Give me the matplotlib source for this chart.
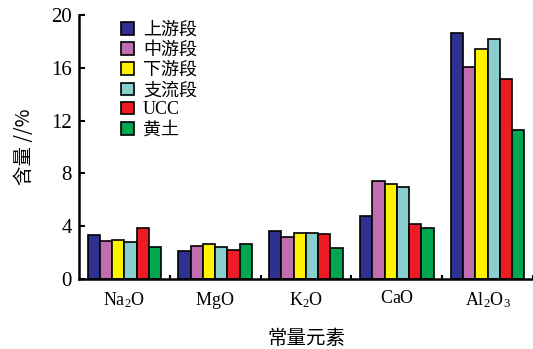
import numpy as np
from matplotlib import pyplot as plt

plt.rcParams['font.family'] = 'Liberation Serif'
plt.rcParams['mathtext.fontset'] = 'custom'
plt.rcParams['mathtext.rm'] = 'Liberation Serif'
cjk = 'Noto Sans CJK SC'

# oxides on the x axis
categories = ['$\\mathrm{Na_2O}$', '$\\mathrm{MgO}$', '$\\mathrm{K_2O}$', '$\\mathrm{CaO}$', '$\\mathrm{Al_2O_3}$']

# content (%) per series
upstream = [3.33, 2.09, 3.66, 4.77, 18.6]
midstream = [2.90, 2.52, 3.15, 7.42, 16.08]
downstream = [2.95, 2.65, 3.45, 7.22, 17.45]
tributary = [2.77, 2.40, 3.45, 6.97, 18.2]
ucc = [3.83, 2.20, 3.38, 4.19, 15.17]
loess = [2.40, 2.65, 2.35, 3.89, 11.26]

series = [upstream, midstream, downstream, tributary, ucc, loess]
labels = ['上游段', '中游段', '下游段', '支流段', 'UCC', '黄土']
colors = ['#2E3092', '#C06EB0', '#FFF200', '#88CFCD', '#ED1C24', '#00A650']
yticks = [0, 4, 8, 12, 16, 20]

fig = plt.figure(figsize=(5.33, 3.49), dpi=100)
ax = fig.add_axes([0.148, 0.2006, 0.852, 0.7564])

x = np.arange(len(categories))
w = 0.135
for i, (vals, lab, c) in enumerate(zip(series, labels, colors)):
    ax.bar(x + (i - 2.5) * w, vals, w, color=c, edgecolor='black', linewidth=1.2, label=lab)

ax.set_xlim(-0.5, 4.5)
ax.set_ylim(0, 20)
ax.set_yticks(yticks)
ax.set_yticklabels([str(v) for v in yticks])
ax.set_xticks(x)
ax.set_xticklabels(categories)
ax.set_xticks(np.arange(0.5, 5, 1), minor=True)
ax.tick_params(axis='x', which='major', length=0, labelsize=13, pad=8)
ax.tick_params(axis='x', which='minor', direction='in', length=3, width=1.5)
ax.tick_params(axis='y', direction='in', length=4, width=1.5, labelsize=15, pad=5)

for s in ['top', 'right']:
    ax.spines[s].set_visible(False)
for s in ['left', 'bottom']:
    ax.spines[s].set_linewidth(1.8)

ax.set_ylabel('含量 //%', fontsize=14, labelpad=12, family=cjk)
ax.set_xlabel('常量元素', fontsize=14, labelpad=12, family=cjk)

leg = ax.legend(loc='upper left', bbox_to_anchor=(0.058, 1.04), frameon=False, fontsize=13,
                handlelength=0.7, handleheight=0.7, handletextpad=0.5, labelspacing=0.12)
for t in leg.get_texts():
    if t.get_text() != 'UCC':
        t.set_family(cjk)

fig.savefig('out.png', dpi=100)
